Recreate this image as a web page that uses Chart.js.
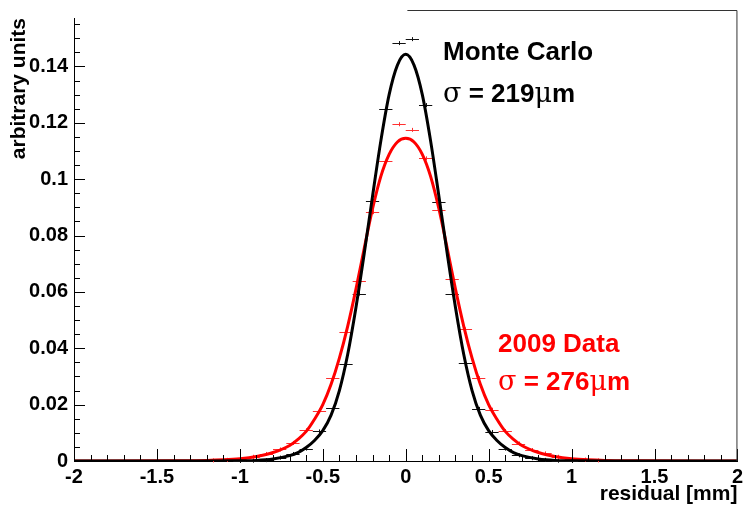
<!DOCTYPE html>
<html>
<head>
<meta charset="utf-8">
<script src="https://cdn.jsdelivr.net/npm/chart.js@4.4.0/dist/chart.umd.min.js"></script>
<style>
  html, body { margin: 0; padding: 0; background: #fff; }
</style>
</head>
<body>
<canvas id="grafico" width="747" height="507"></canvas>
<script>
// Tick labels
const xTicks = [-2, -1.5, -1, -0.5, 0, 0.5, 1, 1.5, 2];
const yTicks = [0, 0.02, 0.04, 0.06, 0.08, 0.1, 0.12, 0.14];

// Histogram bins (bin centres, width 0.08)
const binsMC = [-1.00, -0.92, -0.84, -0.76, -0.68, -0.60, -0.52, -0.44, -0.36, -0.28, -0.20, -0.12, -0.04,
                0.04, 0.12, 0.20, 0.28, 0.36, 0.44, 0.52, 0.60, 0.68, 0.76, 0.84, 0.92, 1.00];
const valuesMC = [0.0000, 0.0001, 0.0003, 0.0012, 0.0025, 0.0044, 0.0105, 0.0187, 0.0343, 0.0594, 0.0923, 0.1249, 0.1483,
                  0.1497, 0.1263, 0.0919, 0.0592, 0.0346, 0.0185, 0.0103, 0.0044, 0.0020, 0.0010, 0.0004, 0.0001, 0.0000];

const binsData = [-1.16, -1.08, -1.00, -0.92, -0.84, -0.76, -0.68, -0.60, -0.52, -0.44, -0.36, -0.28, -0.20, -0.12, -0.04,
                  0.04, 0.12, 0.20, 0.28, 0.36, 0.44, 0.52, 0.60, 0.68, 0.76, 0.84, 0.92, 1.00, 1.08, 1.16];
const valuesData = [0.0002, 0.0004, 0.0008, 0.0015, 0.0025, 0.0041, 0.0064, 0.0109, 0.0179, 0.0294, 0.0458, 0.0639, 0.0883, 0.1066, 0.1195,
                    0.1175, 0.1074, 0.0892, 0.0647, 0.0467, 0.0294, 0.0182, 0.0106, 0.0062, 0.0039, 0.0027, 0.0015, 0.0008, 0.0005, 0.0002];

// Fit curves
const curveXMC = [-2, -1.2, -1.0, -0.9, -0.8, -0.7, -0.65, -0.6, -0.55, -0.5, -0.45, -0.4, -0.35, -0.3, -0.25, -0.2, -0.15, -0.1, -0.05, 0,
                  0.05, 0.1, 0.15, 0.2, 0.25, 0.3, 0.35, 0.4, 0.45, 0.5, 0.55, 0.6, 0.65, 0.7, 0.8, 0.9, 1.0, 1.2, 2];
const curveYMC = [0, 0, 0.0001, 0.0002, 0.0007, 0.0019, 0.0030, 0.0048, 0.0073, 0.0108, 0.0163, 0.0250, 0.0378, 0.0545, 0.0737, 0.0940, 0.1136, 0.1300, 0.1405, 0.1443,
                  0.1405, 0.1300, 0.1136, 0.0940, 0.0737, 0.0545, 0.0378, 0.0250, 0.0163, 0.0108, 0.0073, 0.0048, 0.0030, 0.0019, 0.0007, 0.0002, 0.0001, 0, 0];

const curveXData = [-2, -1.4, -1.2, -1.1, -1.0, -0.9, -0.8, -0.7, -0.65, -0.6, -0.55, -0.5, -0.45, -0.4, -0.35, -0.3, -0.25, -0.2, -0.15, -0.1, -0.05, 0,
                    0.05, 0.1, 0.15, 0.2, 0.25, 0.3, 0.35, 0.4, 0.45, 0.5, 0.55, 0.6, 0.65, 0.7, 0.8, 0.9, 1.0, 1.1, 1.2, 1.4, 2];
const curveYData = [0, 0.0001, 0.0002, 0.0004, 0.0008, 0.0016, 0.0030, 0.0055, 0.0077, 0.0105, 0.0148, 0.0200, 0.0272, 0.0365, 0.0478, 0.0610, 0.0755, 0.0895, 0.1010, 0.1088, 0.1132, 0.1145,
                    0.1132, 0.1088, 0.1010, 0.0895, 0.0755, 0.0610, 0.0478, 0.0365, 0.0272, 0.0200, 0.0148, 0.0105, 0.0077, 0.0055, 0.0030, 0.0016, 0.0008, 0.0004, 0.0002, 0.0001, 0];

const FONT = "'Liberation Sans', Arial, sans-serif";

function pares(xs, ys) {
  return xs.map((x, i) => ({ x: x, y: ys[i] }));
}

// crosses (bin width + error bar) and ROOT-like inward ticks
const pluginRoot = {
  id: 'pluginRoot',
  beforeDatasetsDraw(chart) {
    const ctx = chart.ctx;
    const sx = chart.scales.x, sy = chart.scales.y;
    const series = [
      { bins: binsMC, vals: valuesMC, cor: '#111' },
      { bins: binsData, vals: valuesData, cor: '#ff3030' }
    ];
    ctx.save();
    ctx.lineWidth = 1;
    series.forEach(s => {
      ctx.strokeStyle = s.cor;
      s.bins.forEach((b, i) => {
        const v = s.vals[i];
        const py = Math.round(sy.getPixelForValue(v)) + 0.5;
        const px = Math.round(sx.getPixelForValue(b)) + 0.5;
        ctx.beginPath();
        ctx.moveTo(sx.getPixelForValue(b - 0.04), py);
        ctx.lineTo(sx.getPixelForValue(b + 0.04), py);
        ctx.moveTo(px, sy.getPixelForValue(v) - 2);
        ctx.lineTo(px, sy.getPixelForValue(v) + 2);
        ctx.stroke();
      });
    });
    ctx.restore();
  },
  afterDraw(chart) {
    const ctx = chart.ctx;
    const sx = chart.scales.x, sy = chart.scales.y;
    const area = chart.chartArea;
    ctx.save();
    ctx.strokeStyle = '#000';
    ctx.lineWidth = 1;
    ctx.beginPath();
    // x ticks
    for (let k = 0; k <= 40; k++) {
      const v = -2 + k * 0.1;
      const px = Math.round(sx.getPixelForValue(v)) + 0.5;
      const len = (k % 5 === 0) ? 12 : 6;
      ctx.moveTo(px, area.bottom);
      ctx.lineTo(px, area.bottom - len);
    }
    // y ticks
    for (let k = 0; k <= 31; k++) {
      const v = k * 0.005;
      if (v > sy.max) break;
      const py = Math.round(sy.getPixelForValue(v)) + 0.5;
      const len = (k % 4 === 0) ? 11 : 6;
      ctx.moveTo(area.left, py);
      ctx.lineTo(area.left + len, py);
    }
    ctx.stroke();
    // frame (top right part)
    ctx.strokeStyle = '#333';
    ctx.beginPath();
    ctx.moveTo(sx.getPixelForValue(0.01), 10.5);
    ctx.lineTo(area.right - 0.5, 10.5);
    ctx.lineTo(area.right - 0.5, area.bottom);
    ctx.stroke();

    // labels
    function texto(partes, x, y, cor) {
      ctx.fillStyle = cor;
      ctx.textBaseline = 'alphabetic';
      ctx.textAlign = 'left';
      partes.forEach(p => {
        ctx.font = p[1];
        ctx.fillText(p[0], x, y);
        x += ctx.measureText(p[0]).width;
      });
    }
    const bold = 'bold 26px ' + FONT;
    const sym = '27px "DejaVu Serif", "Liberation Serif", serif';
    texto([['Monte Carlo', bold]], 443, 60, '#000');
    texto([['\u03c3', sym], [' = 219', bold], ['\u03bc', sym], ['m', bold]], 443, 102, '#000');
    texto([['2009 Data', bold]], 498, 352, '#ff0000');
    texto([['\u03c3', sym], [' = 276', bold], ['\u03bc', sym], ['m', bold]], 498, 390, '#ff0000');
    ctx.restore();
  }
};

new Chart(document.getElementById('grafico'), {
  type: 'scatter',
  data: {
    datasets: [
      {
        label: 'Monte Carlo',
        data: pares(curveXMC, curveYMC),
        showLine: true,
        borderColor: '#000',
        borderWidth: 3,
        pointRadius: 0,
        cubicInterpolationMode: 'monotone',
        fill: false
      },
      {
        label: '2009 Data',
        data: pares(curveXData, curveYData),
        showLine: true,
        borderColor: '#ff0000',
        borderWidth: 3,
        pointRadius: 0,
        cubicInterpolationMode: 'monotone',
        fill: false
      }
    ]
  },
  options: {
    responsive: false,
    animation: false,
    layout: { padding: { top: 13, right: 8, left: 0, bottom: 0 } },
    plugins: {
      legend: { display: false },
      tooltip: { enabled: false }
    },
    scales: {
      x: {
        type: 'linear',
        min: -2,
        max: 2,
        afterFit: s => { s.height = 46; },
        afterBuildTicks: s => { s.ticks = xTicks.map(v => ({ value: v })); },
        grid: { display: false, drawTicks: false },
        border: { display: true, color: '#000', width: 1 },
        ticks: {
          padding: 4,
          color: '#000',
          maxRotation: 0,
          font: { family: FONT, size: 20, weight: 'bold' },
          callback: v => String(v)
        },
        title: {
          display: true,
          text: 'residual [mm]',
          align: 'end',
          color: '#000',
          padding: { top: 0, bottom: 0 },
          font: { family: FONT, size: 21, weight: 'bold' }
        }
      },
      y: {
        type: 'linear',
        min: 0,
        max: 0.1572,
        afterFit: s => { s.width = 74; },
        afterBuildTicks: s => { s.ticks = yTicks.map(v => ({ value: v })); },
        grid: { display: false, drawTicks: false },
        border: { display: true, color: '#000', width: 1 },
        ticks: {
          padding: 6,
          color: '#000',
          font: { family: FONT, size: 20, weight: 'bold' },
          callback: v => String(v)
        },
        title: {
          display: true,
          text: 'arbitrary units',
          align: 'end',
          color: '#000',
          padding: { top: 7, bottom: 0 },
          font: { family: FONT, size: 21, weight: 'bold' }
        }
      }
    }
  },
  plugins: [pluginRoot]
});
</script>
</body>
</html>
